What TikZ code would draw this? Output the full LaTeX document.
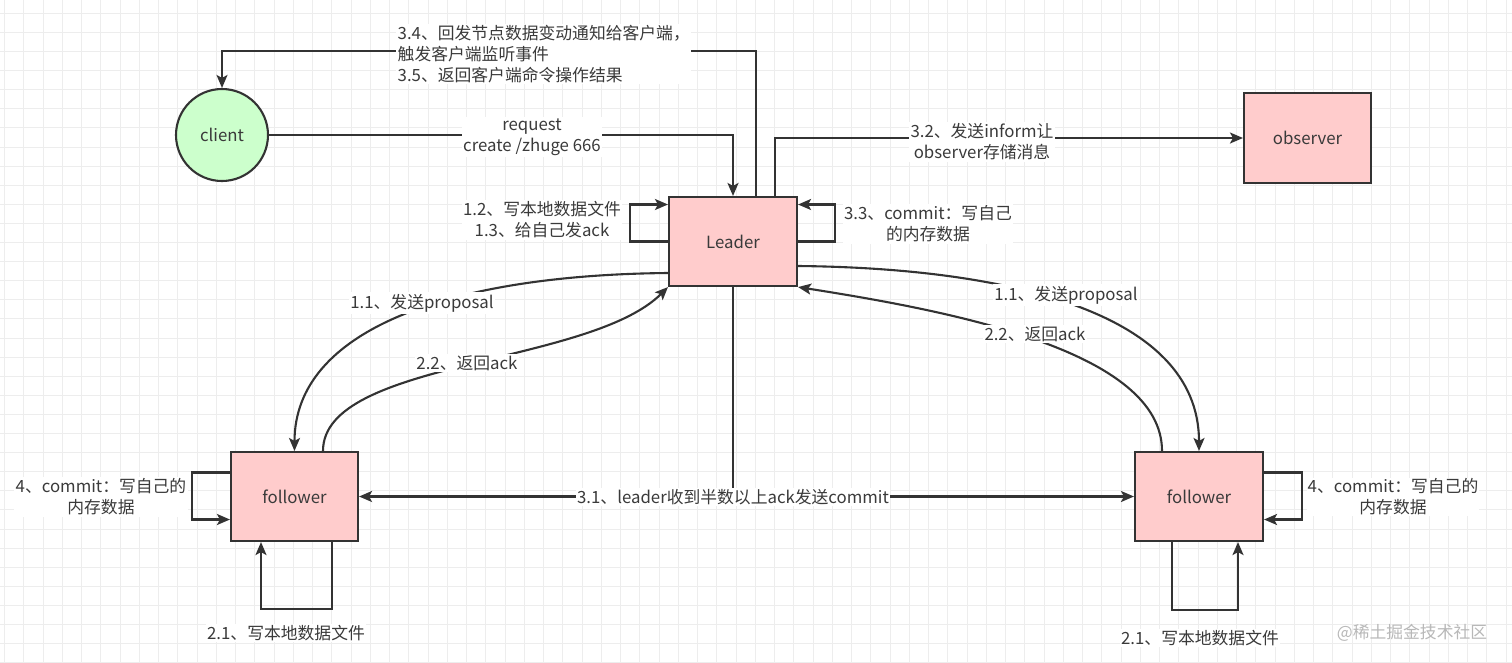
\documentclass[tikz,border=0pt]{standalone}
\usepackage{fontspec}
\setmainfont{Noto Sans CJK SC}
\usetikzlibrary{arrows.meta}
\definecolor{gridc}{HTML}{EDEDED}
\definecolor{ink}{HTML}{333333}
\definecolor{txt}{HTML}{3A3A3A}
\definecolor{pinkf}{HTML}{FFCCCC}
\definecolor{greenf}{HTML}{CCFFCC}
\begin{document}
\begin{tikzpicture}[x=1pt,y=-1pt,
  box/.style={draw=ink, line width=2.1pt, fill=pinkf, inner sep=0pt, text=txt, font=\fontsize{16.8}{20}\selectfont},
  circ/.style={circle, draw=ink, line width=2.1pt, fill=greenf, inner sep=0pt, minimum size=92pt, text=txt, font=\fontsize{16.8}{20}\selectfont},
  conn/.style={draw=ink, line width=2.1pt},
  arr/.style={conn, -{Stealth[length=13pt,width=11pt,inset=3pt]}},
  lbl/.style={fill=white, inner sep=1.5pt, text=txt, align=center, font=\fontsize{16.8}{21}\selectfont},
  wm/.style={inner sep=0pt, text=black!28, font=\fontsize{16.8}{20}\selectfont}
]
\useasboundingbox (0,0) rectangle (1512,662);
\fill[white] (0,0) rectangle (1512,662);
% grid
\foreach \i in {0,...,78} { \draw[gridc, line width=1pt] ({4.7+19.25*\i},0) -- ++(0,662); }
\foreach \j in {0,...,34} { \draw[gridc, line width=1pt] (0,{13.3+19.1*\j}) -- ++(1512,0); }

% nodes
\node[circ] (client) at (222,135) {client};
\node[box, minimum width=128pt, minimum height=89pt] (leader) at (733,241.5) {Leader};
\node[box, minimum width=127pt, minimum height=90pt] (observer) at (1307.5,138) {observer};
\node[box, minimum width=127pt, minimum height=89pt] (fl) at (294.5,496.5) {follower};
\node[box, minimum width=128pt, minimum height=89pt] (fr) at (1199,496.5) {follower};

% client -> leader
\draw[arr] (client.east) -| (leader.north);
% leader -> client (3.4 / 3.5)
\draw[arr] ([xshift=23pt]leader.north) -- ++(0,-145) -| (client.north);
% leader -> observer
\draw[arr] ([xshift=42pt]leader.north) |- (observer.west);
% leader self loops
\draw[arr] (leader.west) -- ++(-38,0) |- ([yshift=37pt]leader.west);
\draw[arr] (leader.east) -- ++(37,0) |- ([yshift=37pt]leader.east);
% follower self loops
\draw[arr] ([yshift=24pt]fl.west) -- ++(-38,0) |- ([yshift=-23pt]fl.west);
\draw[arr] ([xshift=37.5pt]fl.south) -- ++(0,67) -| ([xshift=-33.5pt]fl.south);
\draw[arr] ([yshift=24pt]fr.east) -- ++(38,0) |- ([yshift=-23pt]fr.east);
\draw[arr] ([xshift=-27pt]fr.south) -- ++(0,68) -| ([xshift=39pt]fr.south);
% 3.1 leader -> followers
\coordinate (junc) at (leader.south |- fl.east);
\draw[conn] (leader.south) -- (junc);
\draw[arr] (junc) -- (fl.east);
\draw[arr] (junc) -- (fr.west);
% proposals and acks
\draw[arr] ([yshift=-31.5pt]leader.west) .. controls +(-219,2) and +(0,-121) .. (fl.north);
\draw[arr] ([xshift=28.5pt]fl.north) .. controls +(0,-91) and +(-79,79) .. (leader.south west);
\draw[arr] ([yshift=-24.5pt]leader.east) .. controls +(203,2) and +(0,-141) .. (fr.north);
\draw[arr] ([xshift=-37pt]fr.north) .. controls +(0,-100) and +(153,24) .. (leader.south east);

% labels
\node[lbl, align=left, anchor=west] (l34) at (396,54) {3.4、回发节点数据变动通知给客户端，\\触发客户端监听事件\\3.5、返回客户端命令操作结果};
\node[lbl] (lreq) at (532,137) {request\\create /zhuge 666};
\node[lbl] (l32) at (982,142) {3.2、发送inform让\\observer存储消息};
\node[lbl] (l12) at (542,220) {1.2、写本地数据文件\\1.3、给自己发ack};
\node[lbl] (l33) at (928,224) {3.3、commit：写自己\\的内存数据};
\node[lbl] (l11a) at (422,303) {1.1、发送proposal};
\node[lbl] (l22a) at (467,363) {2.2、返回ack};
\node[lbl] (l11b) at (1066,295) {1.1、发送proposal};
\node[lbl] (l22b) at (1035,334) {2.2、返回ack};
\node[lbl] (l31) at (733,497) {3.1、leader收到半数以上ack发送commit};
\node[lbl] (l4a) at (101,497) {4、commit：写自己的\\内存数据};
\node[lbl, inner sep=0.5pt] (l4b) at (1393,497) {4、commit：写自己的\\内存数据};
\node[lbl] (l21a) at (286,633) {2.1、写本地数据文件};
\node[lbl] (l21b) at (1200,638) {2.1、写本地数据文件};
\node[wm] (wmark) at (1412,633) {@稀土掘金技术社区};
\end{tikzpicture}
\end{document}
